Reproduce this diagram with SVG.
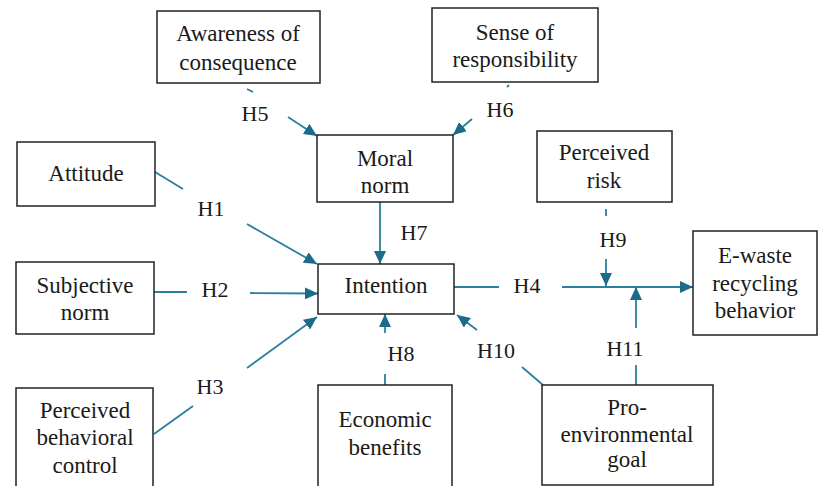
<svg xmlns="http://www.w3.org/2000/svg" width="818" height="486" viewBox="0 0 818 486">
<style>
.box{fill:#fff;stroke:#222;stroke-width:1.5}
.t{font-size:23px;fill:#1a1a1a;text-anchor:middle}
.h{font-size:22px;fill:#1a1a1a;text-anchor:middle}
.c{stroke:#2a7f9f;stroke-width:1.8;fill:none}
</style>
<defs>
<marker id="ah" markerUnits="userSpaceOnUse" markerWidth="14" markerHeight="12" refX="13" refY="6" orient="auto">
<path d="M0,0 L13,6 L0,12 Z" fill="#1b6b8a"/>
</marker>
</defs>
<rect width="818" height="486" fill="#fff"/>
<g id="connectors">
<line class="c" x1="247" y1="89" x2="253" y2="92"/>
<line class="c" x1="288" y1="117" x2="317" y2="136" marker-end="url(#ah)"/>
<line class="c" x1="507" y1="87" x2="509" y2="85"/>
<line class="c" x1="472" y1="119" x2="453" y2="135" marker-end="url(#ah)"/>
<line class="c" x1="155" y1="172" x2="183" y2="189"/>
<line class="c" x1="247" y1="224" x2="317" y2="264" marker-end="url(#ah)"/>
<line class="c" x1="154" y1="292" x2="187" y2="292"/>
<line class="c" x1="250" y1="293" x2="318" y2="293.5" marker-end="url(#ah)"/>
<line class="c" x1="154" y1="434" x2="193" y2="406"/>
<line class="c" x1="247" y1="368" x2="317" y2="317" marker-end="url(#ah)"/>
<line class="c" x1="380" y1="202" x2="380" y2="264" marker-end="url(#ah)"/>
<line class="c" x1="454" y1="287" x2="499" y2="287"/>
<line class="c" x1="562" y1="287" x2="693" y2="287" marker-end="url(#ah)"/>
<line class="c" x1="606" y1="209" x2="606" y2="216"/>
<line class="c" x1="606" y1="259" x2="606" y2="286" marker-end="url(#ah)"/>
<line class="c" x1="636" y1="385" x2="636" y2="365"/>
<line class="c" x1="636" y1="328" x2="636" y2="287" marker-end="url(#ah)"/>
<line class="c" x1="385" y1="385" x2="385" y2="374"/>
<line class="c" x1="385" y1="333" x2="385" y2="314" marker-end="url(#ah)"/>
<line class="c" x1="543" y1="385" x2="522" y2="367"/>
<line class="c" x1="477" y1="330" x2="457" y2="315" marker-end="url(#ah)"/>
</g>
<g font-family="Liberation Serif, serif">
<g id="labels">
<text class="h" x="255" y="121">H5</text>
<text class="h" x="500" y="117">H6</text>
<text class="h" x="211" y="216">H1</text>
<text class="h" x="215" y="297">H2</text>
<text class="h" x="210" y="394">H3</text>
<text class="h" x="414" y="240">H7</text>
<text class="h" x="527" y="293">H4</text>
<text class="h" x="613" y="247">H9</text>
<text class="h" x="401" y="361">H8</text>
<text class="h" x="496" y="358">H10</text>
<text class="h" x="625" y="356">H11</text>
</g>
<g id="awareness"><rect class="box" x="157" y="11" width="163" height="72"/><text class="t" x="238" y="41">Awareness of</text><text class="t" x="238" y="70">consequence</text></g>
<g id="responsibility"><rect class="box" x="432" y="8" width="166" height="74"/><text class="t" x="515" y="40">Sense of</text><text class="t" x="515" y="67">responsibility</text></g>
<g id="moral"><rect class="box" x="317" y="135" width="136" height="67"/><text class="t" x="385" y="166">Moral</text><text class="t" x="385" y="193">norm</text></g>
<g id="risk"><rect class="box" x="537" y="131" width="135" height="71"/><text class="t" x="604" y="160">Perceived</text><text class="t" x="604" y="188">risk</text></g>
<g id="ewaste"><rect class="box" x="693" y="231" width="124" height="104"/><text class="t" x="755" y="263">E-waste</text><text class="t" x="755" y="291">recycling</text><text class="t" x="755" y="318">behavior</text></g>
<g id="attitude"><rect class="box" x="17" y="142" width="138" height="64"/><text class="t" x="86" y="181">Attitude</text></g>
<g id="subjective"><rect class="box" x="16" y="262" width="138" height="72"/><text class="t" x="85" y="293">Subjective</text><text class="t" x="85" y="320">norm</text></g>
<g id="pbc"><rect class="box" x="16" y="388" width="137" height="104"/><text class="t" x="85" y="418">Perceived</text><text class="t" x="85" y="445">behavioral</text><text class="t" x="85" y="473">control</text></g>
<g id="intention"><rect class="box" x="318" y="264" width="136" height="50"/><text class="t" x="386" y="293">Intention</text></g>
<g id="economic"><rect class="box" x="318" y="385" width="134" height="106"/><text class="t" x="385" y="427">Economic</text><text class="t" x="385" y="455">benefits</text></g>
<g id="proenv"><rect class="box" x="542" y="385" width="171" height="100"/><text class="t" x="627" y="415">Pro-</text><text class="t" x="627" y="442">environmental</text><text class="t" x="627" y="467">goal</text></g>
</g>
</svg>
